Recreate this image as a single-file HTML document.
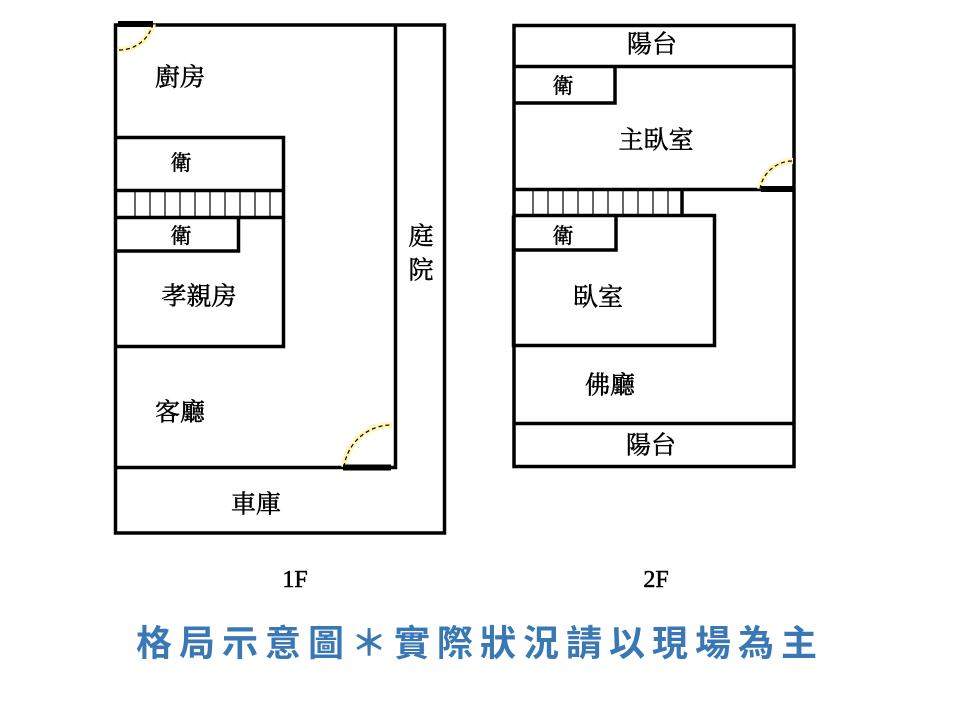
<!DOCTYPE html>
<html><head><meta charset="utf-8"><style>
html,body{margin:0;padding:0;background:#fff;}
svg{display:block;}
.t{font-family:"Liberation Serif","Noto Serif CJK SC","Noto Serif CJK JP",serif;fill:#000;stroke:#000;stroke-width:0.5;text-anchor:middle;dominant-baseline:central;}
</style></head><body>
<svg width="960" height="720" viewBox="0 0 960 720" xmlns="http://www.w3.org/2000/svg">
<g fill="none" stroke="#000" stroke-width="3.5">
<rect x="115.5" y="25" width="329" height="508"/>
<line x1="395.5" y1="25" x2="395.5" y2="469"/>
<line x1="115.5" y1="467.5" x2="397" y2="467.5"/>
<polyline points="115.5,137.5 283.5,137.5 283.5,346.5 115.5,346.5"/>
<line x1="115.5" y1="190.5" x2="283.5" y2="190.5"/>
<line x1="115.5" y1="217.5" x2="283.5" y2="217.5"/>
<polyline points="115.5,251 238.5,251 238.5,217.5"/>
<rect x="514" y="25.5" width="280" height="441"/>
<line x1="514" y1="66.5" x2="794" y2="66.5"/>
<polyline points="514,103 615,103 615,66.5"/>
<line x1="514" y1="189.5" x2="794" y2="189.5"/>
<line x1="682" y1="189.5" x2="682" y2="216"/>
<polyline points="513.5,215.5 714.5,215.5 714.5,345.5 513.5,345.5 513.5,215.5"/>
<polyline points="514,250 616,250 616,215.5"/>
<line x1="514" y1="423.5" x2="794" y2="423.5"/>
</g>
<g stroke="#000" stroke-width="1.2">
<line x1="135" y1="192" x2="135" y2="216"/><line x1="150" y1="192" x2="150" y2="216"/><line x1="165" y1="192" x2="165" y2="216"/><line x1="180" y1="192" x2="180" y2="216"/><line x1="195" y1="192" x2="195" y2="216"/><line x1="210" y1="192" x2="210" y2="216"/><line x1="225" y1="192" x2="225" y2="216"/><line x1="240" y1="192" x2="240" y2="216"/><line x1="255" y1="192" x2="255" y2="216"/><line x1="270" y1="192" x2="270" y2="216"/>
<line x1="533" y1="191" x2="533" y2="214"/><line x1="548" y1="191" x2="548" y2="214"/><line x1="563" y1="191" x2="563" y2="214"/><line x1="578" y1="191" x2="578" y2="214"/><line x1="593" y1="191" x2="593" y2="214"/><line x1="608" y1="191" x2="608" y2="214"/><line x1="623" y1="191" x2="623" y2="214"/><line x1="638" y1="191" x2="638" y2="214"/><line x1="653" y1="191" x2="653" y2="214"/><line x1="668" y1="191" x2="668" y2="214"/>
</g>
<g fill="none">
<path d="M153,24 A35,35 0 0 1 118,50" stroke="#fff6b8" stroke-width="6"/>
<path d="M153,24 A35,35 0 0 1 118,50" stroke="#000" stroke-width="1.2" stroke-dasharray="4,3"/>
<path d="M344,467 A48,48 0 0 1 392,425" stroke="#fff6b8" stroke-width="6"/>
<path d="M344,467 A48,48 0 0 1 392,425" stroke="#000" stroke-width="1.2" stroke-dasharray="4,3"/>
<path d="M760,189 A33,33 0 0 1 793,161" stroke="#fff6b8" stroke-width="6"/>
<path d="M760,189 A33,33 0 0 1 793,161" stroke="#000" stroke-width="1.2" stroke-dasharray="4,3"/>
</g>
<rect x="118" y="21" width="35" height="6" fill="#000"/>
<rect x="343" y="464.5" width="48" height="6" fill="#000"/>
<rect x="761" y="186" width="33" height="6" fill="#000"/>
<text class="t" x="180" y="78" font-size="25">廚房</text>
<text class="t" x="181" y="163" font-size="21">衛</text>
<text class="t" x="181" y="236" font-size="21">衛</text>
<text class="t" x="199" y="297" font-size="25">孝親房</text>
<text class="t" x="180" y="413" font-size="25">客廳</text>
<text class="t" x="256" y="505" font-size="25">車庫</text>
<text class="t" x="421" y="237" font-size="25">庭</text>
<text class="t" x="421" y="271" font-size="25">院</text>
<text class="t" x="652" y="45" font-size="25">陽台</text>
<text class="t" x="563" y="86" font-size="21">衛</text>
<text class="t" x="656" y="141" font-size="25">主臥室</text>
<text class="t" x="563" y="236" font-size="21">衛</text>
<text class="t" x="598" y="298" font-size="25">臥室</text>
<text class="t" x="610" y="386" font-size="25">佛廳</text>
<text class="t" x="651" y="446" font-size="25">陽台</text>
<text class="t" x="295" y="580" font-size="24" stroke-width="0">1F</text>
<text class="t" x="656" y="580" font-size="24" stroke-width="0">2F</text>
<text x="480" y="643" text-anchor="middle" dominant-baseline="central" font-family="'Liberation Sans','Noto Sans CJK TC','Noto Sans CJK SC',sans-serif" font-size="36" font-weight="bold" fill="#3a78b5" letter-spacing="7">格局示意圖＊實際狀況請以現場為主</text>
</svg>
</body></html>
